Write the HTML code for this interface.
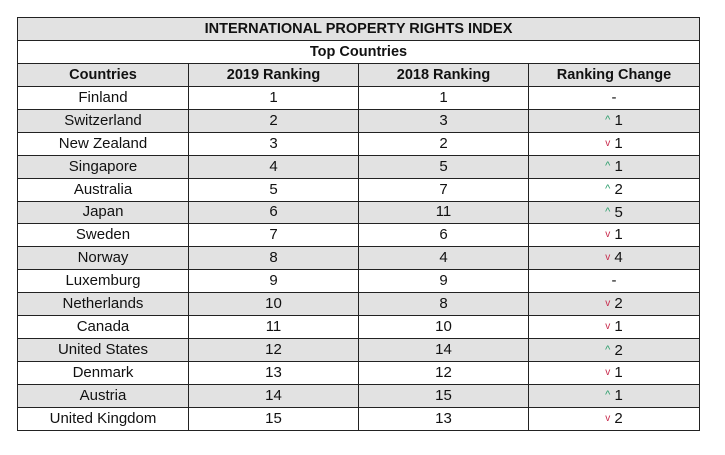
<!DOCTYPE html>
<html><head><meta charset="utf-8"><style>
body{margin:0;width:725px;height:455px;background:#fff;position:relative;font-family:"Liberation Sans",sans-serif;overflow:hidden}
table{position:absolute;left:17px;top:17px;width:682px;border-collapse:collapse;table-layout:fixed}
tr{height:22.94px}
td{border:1.5px solid #222;text-align:center;font-size:15px;color:#111;padding:0;line-height:20px}
.g td{background:#e2e2e2}
.b td{font-weight:bold;font-size:14.5px}
.up{color:#2a9d6a;font-size:11px;vertical-align:2px}
.dn{color:#c8284a;font-size:10px;vertical-align:2px}
</style></head><body>
<table>
<colgroup><col style="width:171px"><col style="width:170px"><col style="width:170px"><col style="width:171px"></colgroup>
<tr class="g b"><td colspan="4">INTERNATIONAL PROPERTY RIGHTS INDEX</td></tr>
<tr class="b"><td colspan="4">Top Countries</td></tr>
<tr class="g b"><td>Countries</td><td>2019 Ranking</td><td>2018 Ranking</td><td>Ranking Change</td></tr>
<tr><td>Finland</td><td>1</td><td>1</td><td>-</td></tr>
<tr class="g"><td>Switzerland</td><td>2</td><td>3</td><td><span class="up">^</span> 1</td></tr>
<tr><td>New Zealand</td><td>3</td><td>2</td><td><span class="dn">v</span> 1</td></tr>
<tr class="g"><td>Singapore</td><td>4</td><td>5</td><td><span class="up">^</span> 1</td></tr>
<tr><td>Australia</td><td>5</td><td>7</td><td><span class="up">^</span> 2</td></tr>
<tr class="g"><td>Japan</td><td>6</td><td>11</td><td><span class="up">^</span> 5</td></tr>
<tr><td>Sweden</td><td>7</td><td>6</td><td><span class="dn">v</span> 1</td></tr>
<tr class="g"><td>Norway</td><td>8</td><td>4</td><td><span class="dn">v</span> 4</td></tr>
<tr><td>Luxemburg</td><td>9</td><td>9</td><td>-</td></tr>
<tr class="g"><td>Netherlands</td><td>10</td><td>8</td><td><span class="dn">v</span> 2</td></tr>
<tr><td>Canada</td><td>11</td><td>10</td><td><span class="dn">v</span> 1</td></tr>
<tr class="g"><td>United States</td><td>12</td><td>14</td><td><span class="up">^</span> 2</td></tr>
<tr><td>Denmark</td><td>13</td><td>12</td><td><span class="dn">v</span> 1</td></tr>
<tr class="g"><td>Austria</td><td>14</td><td>15</td><td><span class="up">^</span> 1</td></tr>
<tr><td>United Kingdom</td><td>15</td><td>13</td><td><span class="dn">v</span> 2</td></tr>
</table>
</body></html>
